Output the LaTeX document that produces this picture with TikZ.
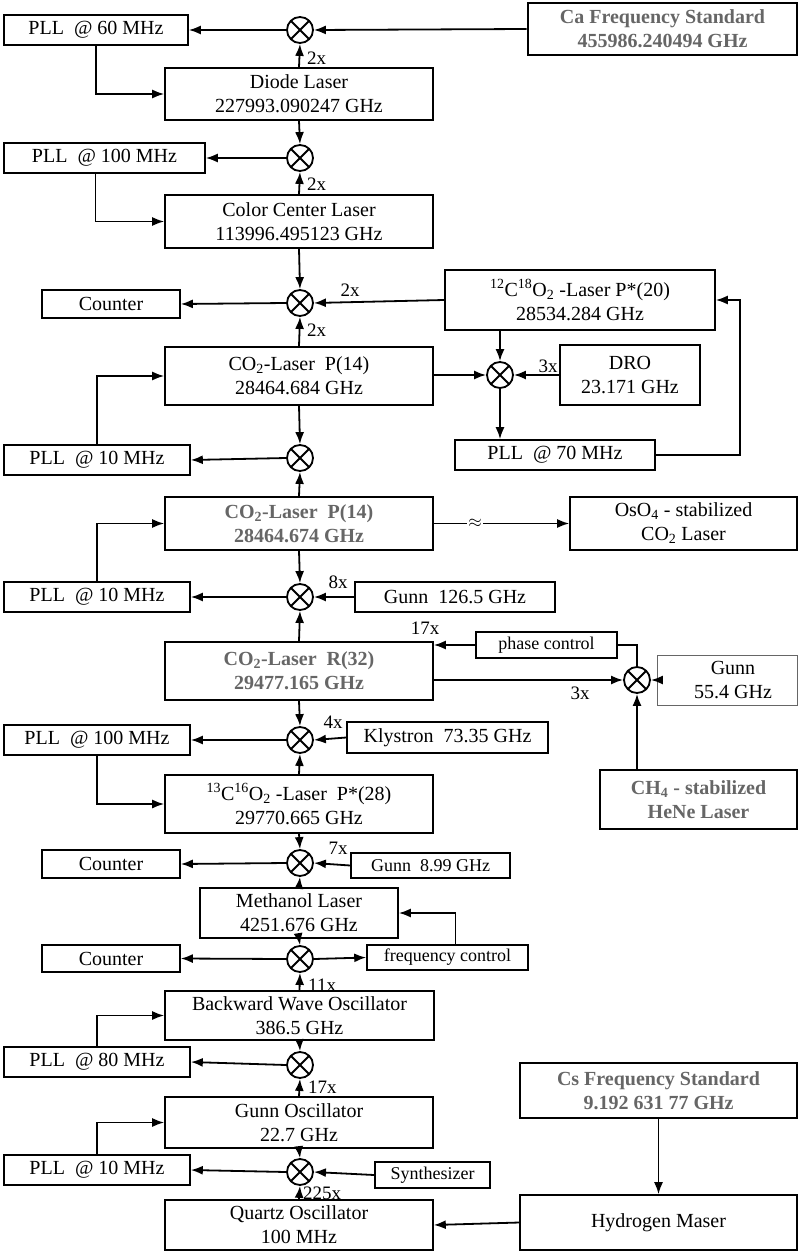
\documentclass[tikz,border=0pt]{standalone}
\usepackage{fontspec}
\setmainfont{Liberation Serif}
\usetikzlibrary{arrows.meta}
\newcommand\bx[7][]{\node[box,#1,minimum width={(#5)-(#3)},minimum height={(#6)-(#4)}] (#2) at ({((#3)+(#5))/2},{((#4)+(#6))/2}) {#7};}
\begin{document}
\begin{tikzpicture}[x=1pt,y=-1pt,
  font=\fontsize{20}{24}\selectfont,
  box/.style={draw,line width=1.6pt,inner sep=0pt,align=center},
  hl/.style={line width=2.8pt,text=black!60,font=\fontsize{20}{24}\selectfont\bfseries},
  mix/.style={draw,circle,line width=1.8pt,minimum size=26pt,inner sep=0pt,
    path picture={\draw[line width=1.8pt] (path picture bounding box.north west)--(path picture bounding box.south east)
      (path picture bounding box.north east)--(path picture bounding box.south west);}},
  arr/.style={line width=1.8pt,-{Latex[length=12pt,width=9pt]}},
  ln/.style={line width=1.8pt},
  lab/.style={inner sep=0pt,font=\fontsize{19}{22}\selectfont}]
\useasboundingbox (0,0) rectangle (800,1252);
% row 1
\bx{pll1}{4}{15}{188}{45}{PLL\ \ @ 60 MHz}
\node[mix] (m1) at (300,30) {};
\bx[hl]{ca}{528}{3}{797}{55}{Ca Frequency Standard\\455986.240494 GHz}
\bx{diode}{165}{68}{433}{120}{Diode Laser\\227993.090247 GHz}
\node[lab,anchor=west] (l1) at (307,58) {2x};
\draw[arr] (ca.west) -- (m1.east);
\draw[arr] (m1.west) -- (pll1.east);
\draw[arr] (diode.north) -- (m1.south);
\draw[arr] (pll1.south) |- (diode.west);
% row 2
\bx{pll2}{4}{143}{205}{173}{PLL\ \ @ 100 MHz}
\node[mix] (m2) at (300,158) {};
\bx{cc}{165}{195}{433}{248}{Color Center Laser\\113996.495123 GHz}
\node[lab,anchor=west] (l2) at (307,184) {2x};
\draw[arr] (diode.south) -- (m2.north);
\draw[arr] (cc.north) -- (m2.south);
\draw[arr] (m2.west) -- (pll2.east);
\draw[arr] ([xshift=-9pt]pll2.south) |- (cc.west);
% row 3
\bx{counter1}{42}{290}{180}{318}{Counter}
\node[mix] (m3) at (300,303) {};
\bx{c12}{445}{270}{715}{330}{\textsuperscript{12}C\textsuperscript{18}O\textsubscript{2} -Laser P*(20)\\28534.284 GHz}
\node[lab] (l3) at (350,290) {2x};
\node[lab,anchor=west] (l4) at (307,330) {2x};
\bx{co2a}{165}{347}{433}{405}{CO\textsubscript{2}-Laser\ \ P(14)\\28464.684 GHz}
\node[mix] (m4) at (500,375) {};
\bx{dro}{560}{345}{700}{405}{DRO\\23.171 GHz}
\node[lab] (l5) at (548,366) {3x};
\bx{pll70}{455}{440}{655}{470}{PLL\ \ @ 70 MHz}
\draw[arr] (cc.south) -- (m3.north);
\draw[arr] (co2a.north) -- (m3.south);
\draw[arr] (c12.west) -- (m3.east);
\draw[arr] (m3.west) -- (counter1.east);
\draw[arr] (co2a.east |- m4.west) -- (m4.west);
\draw[arr] (m4.north |- c12.south) -- (m4.north);
\draw[arr] (dro.west |- m4.east) -- (m4.east);
\draw[arr] (m4.south) -- (m4.south |- pll70.north);
\draw[arr] (pll70.east) -| (740,300) -- (c12.east);
\bx{pll3}{4}{445}{190}{475}{PLL\ \ @ 10 MHz}
\node[mix] (m5) at (300,458) {};
% CO2 b
\bx[hl,line width=1.6pt]{co2b}{165}{497}{433}{550}{CO\textsubscript{2}-Laser\ \ P(14)\\28464.674 GHz}
\bx{oso}{570}{497}{797}{550}{OsO\textsubscript{4} - stabilized\\CO\textsubscript{2} Laser}
\draw[arr] (co2a.south) -- (m5.north);
\draw[arr] (co2b.north) -- (m5.south);
\draw[arr] (m5.west) -- (pll3.east);
\draw[arr] (pll3.north) |- (co2a.west);
\draw[arr] (co2b.east) -- (oso.west);
\node[fill=white,inner sep=1pt,font=\fontsize{16}{16}\selectfont] (sq) at (475,523) {$\approx$};
\bx{pll4}{4}{582}{190}{612}{PLL\ \ @ 10 MHz}
\node[mix] (m6) at (300,597) {};
\bx{gunn1}{355}{582}{555}{612}{Gunn\ \ 126.5 GHz}
\node[lab] (l6) at (338,582) {8x};
\draw[arr] (pll4.north) |- (co2b.west);
\draw[arr] (co2b.south) -- (m6.north);
\draw[arr] (gunn1.west) -- (m6.east);
\draw[arr] (m6.west) -- (pll4.east);
% R32
\bx[hl,line width=1.6pt]{r32}{165}{642}{433}{700}{CO\textsubscript{2}-Laser\ \ R(32)\\29477.165 GHz}
\bx{phase}{476}{632}{617}{658}{\fontsize{18}{20}\selectfont phase control}
\node[lab] (l7) at (425,628) {17x};
\node[mix] (m7) at (637,680) {};
\node[lab] (l8) at (580,693) {3x};
\bx[line width=1pt,draw=black!60]{gunn2}{657}{655}{797}{705}{\hspace*{12pt}Gunn\\\hspace*{12pt}55.4 GHz}
\bx[hl,line width=2.2pt]{ch4}{600}{770}{797}{829}{CH\textsubscript{4} - stabilized\\HeNe Laser}
\draw[arr] (r32.north) -- (m6.south);
\draw[arr] (phase.west) -- (phase.west -| r32.east);
\draw[ln] (phase.east) -| (m7.north);
\draw[arr] (m7.west -| r32.east) -- (m7.west);
\draw[arr] (gunn2.west) -- (m7.east);
\draw[arr] (m7.south |- ch4.north) -- (m7.south);
% 13C
\bx{pll5}{4}{725}{190}{755}{PLL\ \ @ 100 MHz}
\node[mix] (m8) at (300,740) {};
\bx{kly}{347}{722}{548}{753}{Klystron\ \ 73.35 GHz}
\node[lab] (l9) at (333,722) {4x};
\bx{c13}{165}{775}{433}{833}{\textsuperscript{13}C\textsuperscript{16}O\textsubscript{2} -Laser\ \ P*(28)\\29770.665 GHz}
\draw[arr] (r32.south) -- (m8.north);
\draw[arr] (c13.north) -- (m8.south);
\draw[arr] (kly.west) -- (m8.east);
\draw[arr] (m8.west) -- (pll5.east);
\draw[arr] (pll5.south) |- (c13.west);
% methanol
\bx{counter2}{42}{850}{180}{878}{Counter}
\node[mix] (m9) at (300,863) {};
\bx{gunn3}{351}{853}{510}{878}{\fontsize{18}{20}\selectfont Gunn\ \ 8.99 GHz}
\node[lab] (l10) at (338,848) {7x};
\bx{meth}{200}{888}{398}{938}{Methanol Laser\\4251.676 GHz}
\draw[arr] (c13.south) -- (m9.north);
\draw[arr] (meth.north) -- (m9.south);
\draw[arr] (gunn3.west) -- (m9.east);
\draw[arr] (m9.west) -- (counter2.east);
\bx{counter3}{42}{945}{180}{972}{Counter}
\node[mix] (m10) at (300,959) {};
\bx{fc}{367}{945}{528}{970}{\fontsize{18}{20}\selectfont frequency control}
\node[lab,anchor=west] (l11) at (308,985) {11x};
\draw[arr] (meth.south) -- (m10.north);
\draw[arr] (m10.west) -- (counter3.east);
\draw[arr] (m10.east) -- (fc.west);
\draw[arr] ([xshift=8pt]fc.north) |- (meth.east);
% BWO
\bx{bwo}{165}{991}{434}{1040}{Backward Wave Oscillator\\386.5 GHz}
\bx{pll6}{4}{1047}{190}{1077}{PLL\ \ @ 80 MHz}
\node[mix] (m11) at (300,1065) {};
\node[lab,anchor=west] (l12) at (308,1087) {17x};
\draw[arr] (bwo.north) -- (m10.south);
\draw[arr] (bwo.south) -- (m11.north);
\draw[arr] (m11.west) -- (pll6.east);
\draw[arr] (pll6.north) |- (bwo.west);
\bx{gunno}{165}{1097}{433}{1148}{Gunn Oscillator\\22.7 GHz}
\bx{pll7}{4}{1155}{190}{1185}{PLL\ \ @ 10 MHz}
\node[mix] (m12) at (300,1172) {};
\bx{synth}{375}{1162}{490}{1188}{\fontsize{18}{20}\selectfont Synthesizer}
\node[lab,anchor=west] (l13) at (303,1193) {225x};
\bx{quartz}{165}{1200}{433}{1250}{Quartz Oscillator\\100 MHz}
\bx[hl]{cs}{520}{1063}{797}{1118}{Cs Frequency Standard\\9.192 631 77 GHz}
\bx{maser}{520}{1195}{797}{1250}{Hydrogen Maser}
\draw[arr] (gunno.north) -- (m11.south);
\draw[arr] (gunno.south) -- (m12.north);
\draw[arr] (quartz.north) -- (m12.south);
\draw[arr] (synth.west) -- (m12.east);
\draw[arr] (m12.west) -- (pll7.east);
\draw[arr] (pll7.north) |- (gunno.west);
\draw[arr] (cs.south) -- (maser.north);
\draw[arr] (maser.west) -- (quartz.east);
\end{tikzpicture}
\end{document}
